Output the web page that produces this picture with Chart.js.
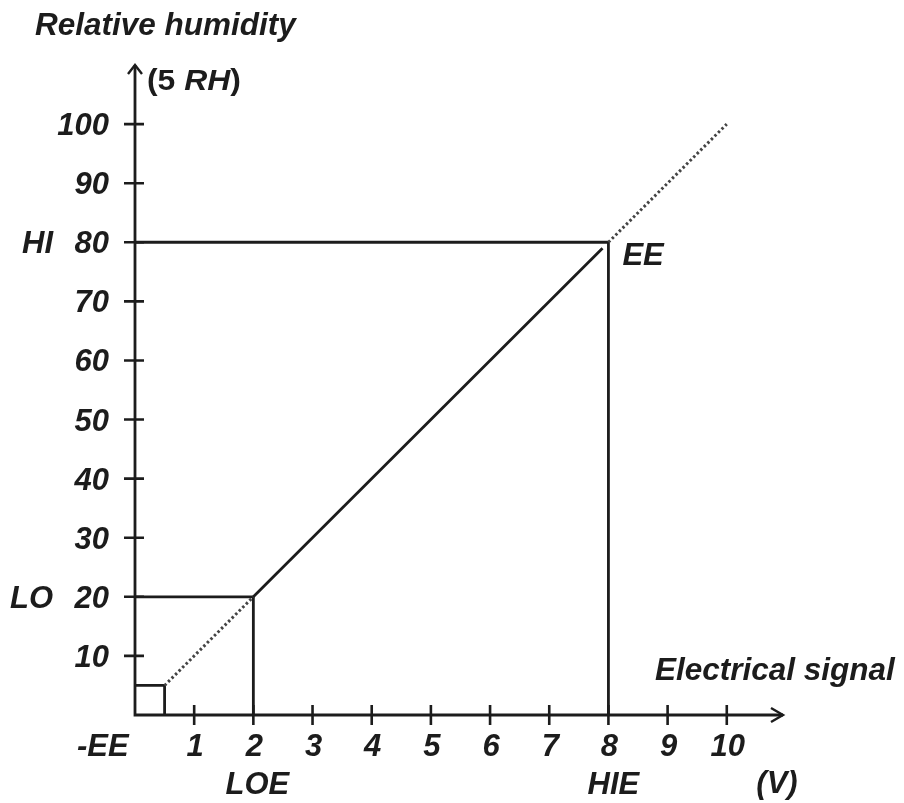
<!DOCTYPE html>
<html>
<head>
<meta charset="utf-8">
<script src="https://cdn.jsdelivr.net/npm/chart.js@4.4.0/dist/chart.umd.min.js"></script>
<style>
  html, body { margin: 0; background: #fff; }
</style>
</head>
<body>
<canvas id="rh-curve" width="904" height="803"></canvas>
<script>
// axis ticks
const volt_ticks = [1, 2, 3, 4, 5, 6, 7, 8, 9, 10];
const rh_ticks = [10, 20, 30, 40, 50, 60, 70, 80, 90, 100];

// key points of the transfer curve: [volts, %RH]
const ee_point = [0.5, 5];
const lo_point = [2, 20];
const hi_point = [8, 80];
const solid_end = [7.9, 79];
const full_scale = [10, 100];

const x_max = 10.95;
const y_max = 110;

const INK = "#1c1c1c";
const FAMILY = "'Liberation Sans', Arial, sans-serif";
const LABEL_FONT = "bold italic 31px " + FAMILY;

const pt = (p) => ({ x: p[0], y: p[1] });

function seg(points, dotted) {
    return {
        data: points.map(pt),
        borderColor: dotted ? "#444" : INK,
        borderWidth: dotted ? 3 : 2.8,
        borderDash: dotted ? [2.5, 2.5] : [],
        pointRadius: 0,
        fill: false,
        tension: 0,
        clip: false
    };
}

// text on an alphabetic baseline, optional horizontal stretch; returns width
function label(ctx, str, x, y, align, font, stretch = 1) {
    ctx.save();
    ctx.font = font;
    const w = ctx.measureText(str).width * stretch;
    const left = align === "right" ? x - w : align === "center" ? x - w / 2 : x;
    ctx.translate(left, y);
    ctx.scale(stretch, 1);
    ctx.textAlign = "left";
    ctx.textBaseline = "alphabetic";
    ctx.fillText(str, 0, 0);
    ctx.restore();
    return w;
}

// axes with arrows, ticks and all the text labels
const axesPlugin = {
    id: "axesPlugin",
    afterDatasetsDraw(chart) {
        const ctx = chart.ctx;
        const xs = chart.scales.x;
        const ys = chart.scales.y;
        const x0 = xs.getPixelForValue(0);
        const y0 = ys.getPixelForValue(0);
        const xEnd = xs.getPixelForValue(x_max);
        const yEnd = ys.getPixelForValue(y_max);

        ctx.save();
        ctx.strokeStyle = INK;
        ctx.fillStyle = INK;
        ctx.lineWidth = 2.8;
        ctx.lineCap = "butt";

        // axis lines
        ctx.beginPath();
        ctx.moveTo(x0, y0);
        ctx.lineTo(x0, yEnd);
        ctx.moveTo(x0 - 1.4, y0);
        ctx.lineTo(xEnd, y0);
        ctx.stroke();

        // arrow heads
        ctx.lineWidth = 2.4;
        ctx.beginPath();
        ctx.moveTo(x0 - 7, yEnd + 9);
        ctx.lineTo(x0, yEnd);
        ctx.lineTo(x0 + 7, yEnd + 9);
        ctx.moveTo(xEnd - 12, y0 - 7);
        ctx.lineTo(xEnd, y0);
        ctx.lineTo(xEnd - 12, y0 + 7);
        ctx.stroke();

        // tick marks
        ctx.lineWidth = 2.6;
        ctx.beginPath();
        rh_ticks.forEach(v => {
            const y = ys.getPixelForValue(v);
            ctx.moveTo(x0 - 11, y);
            ctx.lineTo(x0 + 9, y);
        });
        volt_ticks.forEach(v => {
            const x = xs.getPixelForValue(v);
            ctx.moveTo(x, y0 - 10);
            ctx.lineTo(x, y0 + 10);
        });
        ctx.stroke();

        // tick labels
        rh_ticks.forEach(v => {
            label(ctx, String(v), x0 - 26, ys.getPixelForValue(v) + 11, "right", LABEL_FONT);
        });
        volt_ticks.forEach(v => {
            label(ctx, String(v), xs.getPixelForValue(v) + 1, y0 + 41, "center", LABEL_FONT);
        });

        // threshold names
        label(ctx, "HI", 22, ys.getPixelForValue(hi_point[1]) + 11, "left", LABEL_FONT);
        label(ctx, "LO", 10, ys.getPixelForValue(lo_point[1]) + 11, "left", LABEL_FONT);
        label(ctx, "EE", xs.getPixelForValue(hi_point[0]) + 14, ys.getPixelForValue(hi_point[1]) + 23, "left", LABEL_FONT);
        label(ctx, "-EE", 77, y0 + 41, "left", LABEL_FONT);
        label(ctx, "LOE", xs.getPixelForValue(lo_point[0]) + 4, y0 + 79, "center", LABEL_FONT);
        label(ctx, "HIE", xs.getPixelForValue(hi_point[0]) + 5, y0 + 79, "center", LABEL_FONT);
        label(ctx, "(V)", 777, y0 + 78, "center", LABEL_FONT);

        // axis titles
        label(ctx, "Relative humidity", 35, 35, "left", "bold italic 31.5px " + FAMILY);
        label(ctx, "Electrical signal", 655, 680, "left", "bold italic 31.5px " + FAMILY);

        // unit next to the y arrow: (5 RH)
        const up = "bold 29px " + FAMILY;
        const it = "bold italic 29px " + FAMILY;
        let tx = x0 + 12;
        const ty = yEnd + 25;
        tx += label(ctx, "(5 ", tx, ty, "left", up, 1.1);
        tx += label(ctx, "RH", tx, ty, "left", it, 1.1);
        label(ctx, ")", tx, ty, "left", up, 1.1);

        ctx.restore();
    }
};

new Chart(document.getElementById("rh-curve"), {
    type: "line",
    data: {
        datasets: [
            // linear range between the LO and HI set points
            seg([lo_point, solid_end], false),
            // extrapolated parts of the line
            seg([ee_point, lo_point], true),
            seg([hi_point, full_scale], true),
            // HI threshold
            seg([[0, hi_point[1]], hi_point, [hi_point[0], 0]], false),
            // LO threshold
            seg([[0, lo_point[1]], lo_point, [lo_point[0], 0]], false),
            // error zone box
            seg([[0, ee_point[1]], ee_point, [ee_point[0], 0]], false)
        ]
    },
    options: {
        responsive: false,
        animation: false,
        layout: { padding: { left: 135, right: 121, top: 65, bottom: 88 } },
        plugins: {
            legend: { display: false },
            tooltip: { enabled: false }
        },
        scales: {
            x: { type: "linear", min: 0, max: x_max, display: false },
            y: { type: "linear", min: 0, max: y_max, display: false }
        }
    },
    plugins: [axesPlugin]
});
</script>
</body>
</html>
